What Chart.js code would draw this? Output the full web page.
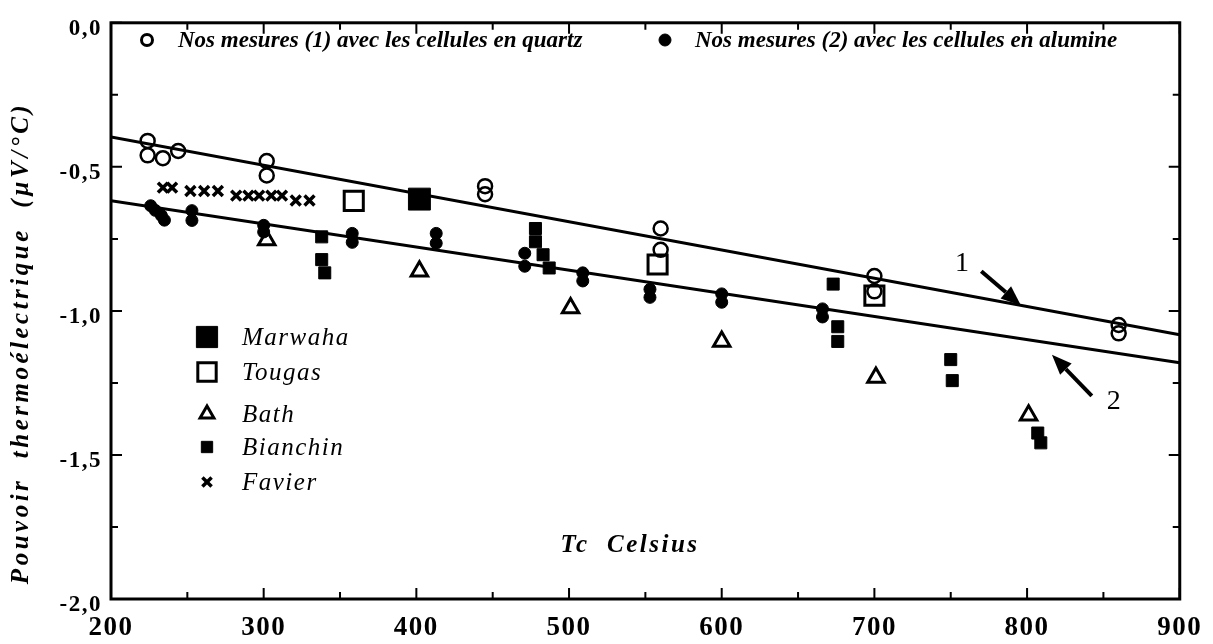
<!DOCTYPE html>
<html>
<head>
<meta charset="utf-8">
<script src="https://cdn.jsdelivr.net/npm/chart.js@4"></script>
<style>
  body { margin: 0; background: #fff; }
  #wrap { width: 1213px; height: 644px; }
</style>
</head>
<body>
<div id="wrap"><canvas id="chart" width="1213" height="644"></canvas></div>
<script>
// fitted lines (1) quartz, (2) alumina
const fitTemps = [200, 900];
const fit1 = [-0.396, -1.083];
const fit2 = [-0.618, -1.180];

// our measurements (1) quartz cells - open circles
const quartzT = [224, 224, 234, 244, 302, 302, 445, 445, 560, 560, 700, 700, 860, 860];
const quartzV = [-0.41, -0.46, -0.47, -0.445, -0.48, -0.53, -0.567, -0.595, -0.714, -0.788, -0.879, -0.932, -1.049, -1.078];

// our measurements (2) alumina cells - filled circles
const aluminaT = [226, 229, 233, 235, 253, 253, 300, 300, 358, 358, 413, 413, 471, 471, 509, 509, 553, 553, 600, 600, 666, 666];
const aluminaV = [-0.635, -0.651, -0.669, -0.685, -0.652, -0.686, -0.703, -0.726, -0.731, -0.762, -0.731, -0.765, -0.800, -0.845, -0.868, -0.896, -0.925, -0.953, -0.941, -0.970, -0.993, -1.021];

// literature
const marwahaT = [402];
const marwahaV = [-0.612];
const tougasT = [359, 558, 700];
const tougasV = [-0.618, -0.839, -0.947];
const bathT = [302, 402, 501, 600, 701, 801];
const bathV = [-0.754, -0.862, -0.990, -1.106, -1.231, -1.362];
const bianchinT = [338, 338, 340, 478, 478, 483, 487, 673, 676, 676, 750, 751, 807, 809];
const bianchinV = [-0.743, -0.822, -0.868, -0.714, -0.760, -0.805, -0.851, -0.907, -1.055, -1.106, -1.169, -1.242, -1.424, -1.458];
const favierT = [234, 240, 252, 261, 270, 282, 290, 297, 305, 312, 321, 330];
const favierV = [-0.572, -0.572, -0.584, -0.584, -0.584, -0.600, -0.600, -0.600, -0.600, -0.600, -0.617, -0.617];

// arrows: [tailT, tailV, tipT, tipV], labels at [T, V]
const arrow1 = [770, -0.862, 796, -0.981];
const arrow2 = [842.4, -1.295, 816.3, -1.152];
const label1 = [757.4, -0.835];
const label2 = [856.8, -1.315];

const serif = '"Liberation Serif", "Times New Roman", serif';

function pts(xs, ys) {
    return xs.map((x, i) => ({ x: x, y: ys[i] }));
}

const styles = {
    quartz:   { pointStyle: 'circle',   radius: 7,    borderWidth: 2.5, fill: false },
    alumina:  { pointStyle: 'circle',   radius: 6,    borderWidth: 1,   fill: true },
    marwaha:  { pointStyle: 'rect',     radius: 15.5, borderWidth: 1,   fill: true },
    tougas:   { pointStyle: 'rect',     radius: 13.5, borderWidth: 3,   fill: false },
    bath:     { pointStyle: 'triangle', radius: 9.5,  borderWidth: 3,   fill: false },
    bianchin: { pointStyle: 'rect',     radius: 8.5,  borderWidth: 1,   fill: true },
    favier:   { pointStyle: 'crossRot', radius: 7,    borderWidth: 3.5, fill: false }
};

function scatterSet(label, xs, ys, st) {
    return {
        type: 'scatter',
        label: label,
        data: pts(xs, ys),
        pointStyle: st.pointStyle,
        pointRadius: st.radius,
        pointHoverRadius: st.radius,
        pointBorderWidth: st.borderWidth,
        pointBorderColor: '#000',
        pointBackgroundColor: st.fill ? '#000' : 'rgba(0,0,0,0)',
        showLine: false
    };
}

function lineSet(label, ys) {
    return {
        type: 'line',
        label: label,
        data: pts(fitTemps, ys),
        borderColor: '#000',
        borderWidth: 3,
        pointRadius: 0,
        fill: false,
        tension: 0
    };
}

function drawMarker(ctx, st, x, y) {
    ctx.save();
    ctx.fillStyle = st.fill ? '#000' : 'rgba(0,0,0,0)';
    ctx.strokeStyle = '#000';
    ctx.lineWidth = st.borderWidth;
    Chart.helpers.drawPoint(ctx, { pointStyle: st.pointStyle, radius: st.radius, borderWidth: st.borderWidth, rotation: 0 }, x, y);
    ctx.restore();
}

function drawArrow(ctx, x1, y1, x2, y2) {
    const ang = Math.atan2(y2 - y1, x2 - x1);
    const head = 20, half = 8;
    const bx = x2 - head * Math.cos(ang), by = y2 - head * Math.sin(ang);
    ctx.save();
    ctx.strokeStyle = '#000';
    ctx.fillStyle = '#000';
    ctx.lineWidth = 4;
    ctx.beginPath();
    ctx.moveTo(x1, y1);
    ctx.lineTo(bx, by);
    ctx.stroke();
    ctx.beginPath();
    ctx.moveTo(x2, y2);
    ctx.lineTo(bx + half * Math.sin(ang), by - half * Math.cos(ang));
    ctx.lineTo(bx - half * Math.sin(ang), by + half * Math.cos(ang));
    ctx.closePath();
    ctx.fill();
    ctx.restore();
}

const decorPlugin = {
    id: 'decor',
    beforeDraw(chart) {
        // spaced-out tick numbers like the printed figure
        chart.ctx.letterSpacing = '1.5px';
    },
    beforeDatasetsDraw(chart) {
        chart.ctx.letterSpacing = '0px';
    },
    afterDraw(chart) {
        const ctx = chart.ctx;
        const a = chart.chartArea;
        const xs = chart.scales.x, ys = chart.scales.y;

        // frame
        ctx.save();
        ctx.strokeStyle = '#000';
        ctx.lineWidth = 3;
        ctx.strokeRect(a.left, a.top, a.right - a.left, a.bottom - a.top);

        // inward ticks on all four sides
        ctx.lineWidth = 2;
        ctx.beginPath();
        for (let t = 200; t <= 900; t += 50) {
            const px = xs.getPixelForValue(t);
            const len = (t % 100 === 0) ? 11 : 7;
            ctx.moveTo(px, a.bottom); ctx.lineTo(px, a.bottom - len);
            ctx.moveTo(px, a.top); ctx.lineTo(px, a.top + len);
        }
        for (let k = 0; k <= 8; k++) {
            const v = -k * 0.25;
            const py = ys.getPixelForValue(v);
            const len = (k % 2 === 0) ? 11 : 7;
            ctx.moveTo(a.left, py); ctx.lineTo(a.left + len, py);
            ctx.moveTo(a.right, py); ctx.lineTo(a.right - len, py);
        }
        ctx.stroke();

        // axis titles
        ctx.fillStyle = '#000';
        ctx.textAlign = 'center';
        ctx.textBaseline = 'middle';
        ctx.font = 'italic bold 25px ' + serif;
        ctx.letterSpacing = '2.5px';
        ctx.fillText('Tc  Celsius', 630, 546);

        ctx.save();
        ctx.translate(22, 343);
        ctx.rotate(-Math.PI / 2);
        ctx.font = 'italic bold 25px ' + serif;
        ctx.letterSpacing = '3.5px';
        ctx.fillText('Pouvoir  thermoélectrique  (µV/°C)', 0, 0);
        ctx.restore();

        // top legend
        ctx.textAlign = 'left';
        ctx.letterSpacing = '0px';
        ctx.font = 'italic bold 23px ' + serif;
        drawMarker(ctx, { pointStyle: 'circle', radius: 5.5, borderWidth: 3, fill: false }, 147, 40);
        ctx.fillText('Nos mesures (1) avec les cellules en quartz', 178, 41);
        drawMarker(ctx, { pointStyle: 'circle', radius: 6, borderWidth: 1, fill: true }, 665, 40);
        ctx.fillText('Nos mesures (2) avec les cellules en alumine', 695, 41);

        // lower legend
        const rows = [
            ['Marwaha', { pointStyle: 'rect', radius: 15, borderWidth: 1, fill: true }, 337],
            ['Tougas', { pointStyle: 'rect', radius: 13, borderWidth: 3, fill: false }, 372],
            ['Bath', { pointStyle: 'triangle', radius: 8, borderWidth: 3, fill: false }, 414],
            ['Bianchin', { pointStyle: 'rect', radius: 8, borderWidth: 1, fill: true }, 447],
            ['Favier', { pointStyle: 'crossRot', radius: 6.5, borderWidth: 3.5, fill: false }, 482]
        ];
        ctx.font = 'italic 25px ' + serif;
        ctx.letterSpacing = '1.5px';
        rows.forEach(r => {
            drawMarker(ctx, r[1], 207, r[2]);
            ctx.fillStyle = '#000';
            ctx.fillText(r[0], 242, r[2] + 1);
        });
        ctx.letterSpacing = '0px';

        // arrows and labels 1, 2
        drawArrow(ctx, xs.getPixelForValue(arrow1[0]), ys.getPixelForValue(arrow1[1]),
                  xs.getPixelForValue(arrow1[2]), ys.getPixelForValue(arrow1[3]));
        drawArrow(ctx, xs.getPixelForValue(arrow2[0]), ys.getPixelForValue(arrow2[1]),
                  xs.getPixelForValue(arrow2[2]), ys.getPixelForValue(arrow2[3]));
        ctx.font = '28px ' + serif;
        ctx.textAlign = 'center';
        ctx.fillText('1', xs.getPixelForValue(label1[0]), ys.getPixelForValue(label1[1]));
        ctx.fillText('2', xs.getPixelForValue(label2[0]), ys.getPixelForValue(label2[1]));
        ctx.restore();
    }
};

const ctx = document.getElementById('chart').getContext('2d');
const chart = new Chart(ctx, {
    data: {
        datasets: [
            lineSet('1', fit1),
            lineSet('2', fit2),
            scatterSet('Nos mesures (1) avec les cellules en quartz', quartzT, quartzV, styles.quartz),
            scatterSet('Nos mesures (2) avec les cellules en alumine', aluminaT, aluminaV, styles.alumina),
            scatterSet('Marwaha', marwahaT, marwahaV, styles.marwaha),
            scatterSet('Tougas', tougasT, tougasV, styles.tougas),
            scatterSet('Bath', bathT, bathV, styles.bath),
            scatterSet('Bianchin', bianchinT, bianchinV, styles.bianchin),
            scatterSet('Favier', favierT, favierV, styles.favier)
        ]
    },
    options: {
        responsive: false,
        animation: false,
        layout: { padding: { left: 0, right: 32, top: 12, bottom: 0 } },
        plugins: {
            legend: { display: false },
            tooltip: { enabled: false }
        },
        scales: {
            x: {
                type: 'linear',
                min: 200,
                max: 900,
                grid: { display: false, drawTicks: false },
                border: { display: false },
                ticks: {
                    stepSize: 100,
                    color: '#000',
                    padding: 13,
                    font: { family: serif, size: 27, weight: 'bold' }
                },
                afterFit(scale) { scale.height = 45; }
            },
            y: {
                type: 'linear',
                min: -2,
                max: 0,
                grid: { display: false, drawTicks: false },
                border: { display: false },
                ticks: {
                    stepSize: 0.5,
                    color: '#000',
                    padding: 9,
                    labelOffset: 6,
                    font: { family: serif, size: 23, weight: 'bold' },
                    callback: v => (Math.abs(v) < 1e-9 ? '0,0' : v.toFixed(1).replace('.', ','))
                },
                afterFit(scale) { scale.width = 111; }
            }
        }
    },
    plugins: [decorPlugin]
});
</script>
</body>
</html>
